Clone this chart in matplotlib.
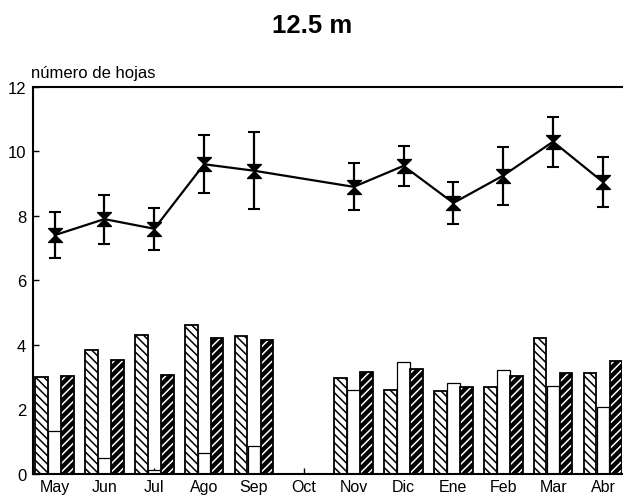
import numpy as np
import matplotlib
matplotlib.use("Agg")
import matplotlib.pyplot as plt
from matplotlib.path import Path

plt.rcParams['font.family'] = ['Liberation Sans', 'DejaVu Sans']
plt.rcParams['hatch.linewidth'] = 1.1

months = ["May", "Jun", "Jul", "Ago", "Sep", "Oct", "Nov", "Dic", "Ene", "Feb", "Mar", "Abr"]

# leaf count per shoot (mean and error), no sampling in October
hojas_media = [7.4, 7.9, 7.6, 9.6, 9.4, np.nan, 8.9, 9.55, 8.4, 9.25, 10.3, 9.05]
hojas_err = [0.72, 0.76, 0.65, 0.9, 1.2, np.nan, 0.73, 0.62, 0.66, 0.9, 0.78, 0.78]

# three bar series per month
serie_a = [3.0, 3.85, 4.3, 4.62, 4.28, 0, 2.98, 2.6, 2.58, 2.7, 4.22, 3.14]
serie_b = [1.33, 0.5, 0.13, 0.66, 0.87, 0, 2.6, 3.48, 2.83, 3.23, 2.73, 2.08]
serie_c = [3.05, 3.53, 3.07, 4.22, 4.16, 0, 3.15, 3.26, 2.7, 3.05, 3.14, 3.51]

fig = plt.figure(figsize=(6.25, 5.02), dpi=100)
ax = fig.add_axes([0.053, 0.054, 0.942, 0.771])

x = np.arange(len(months))
w = 0.255
off = 0.26

# left: white with back-diagonal hatch
ax.bar(x - off, serie_a, w, facecolor="white", edgecolor="black",
       hatch="\\\\\\\\", linewidth=1.3, zorder=2)
# middle: open bars
ax.bar(x, serie_b, w, facecolor="white", edgecolor="black",
       linewidth=0.9, zorder=2)
# right: black with thin white diagonal hatch
ax.bar(x + off, serie_c, w, facecolor="black", edgecolor="white",
       hatch="////", linewidth=0, zorder=2)
ax.bar(x + off, serie_c, w, facecolor="none", edgecolor="black",
       linewidth=1.3, zorder=3)

# hourglass marker
hourglass = Path([(-1, 1), (1, 1), (0, 0), (1, -1), (-1, -1), (0, 0), (-1, 1)],
                 [Path.MOVETO, Path.LINETO, Path.LINETO, Path.LINETO,
                  Path.LINETO, Path.LINETO, Path.CLOSEPOLY])

m = np.array(hojas_media)
e = np.array(hojas_err)
ok = ~np.isnan(m)
ax.errorbar(x[ok], m[ok], yerr=e[ok], color="black", lw=1.6,
            marker=hourglass, markersize=10, capsize=4.5, capthick=1.5,
            elinewidth=1.6, zorder=4)

ax.set_xlim(-0.43, 11.38)
ax.set_ylim(0, 12)
ax.set_yticks(range(0, 13, 2))
ax.set_xticks(x)
ax.set_xticklabels(months)
ax.tick_params(axis="both", direction="in", length=4, width=1,
               colors="black")
ax.tick_params(axis="x", pad=4, labelsize=11.5)
ax.tick_params(axis="y", pad=5, labelsize=12)

ax.spines["right"].set_visible(False)
for s in ["left", "top", "bottom"]:
    ax.spines[s].set_linewidth(1.5)

ax.text(-0.47, 12.22, "número de hojas", fontsize=12, ha="left", va="bottom")
fig.text(0.5, 0.948, "12.5 m", fontsize=18.5, fontweight="bold", ha="center", va="center")

fig.savefig("out.png", dpi=100)
